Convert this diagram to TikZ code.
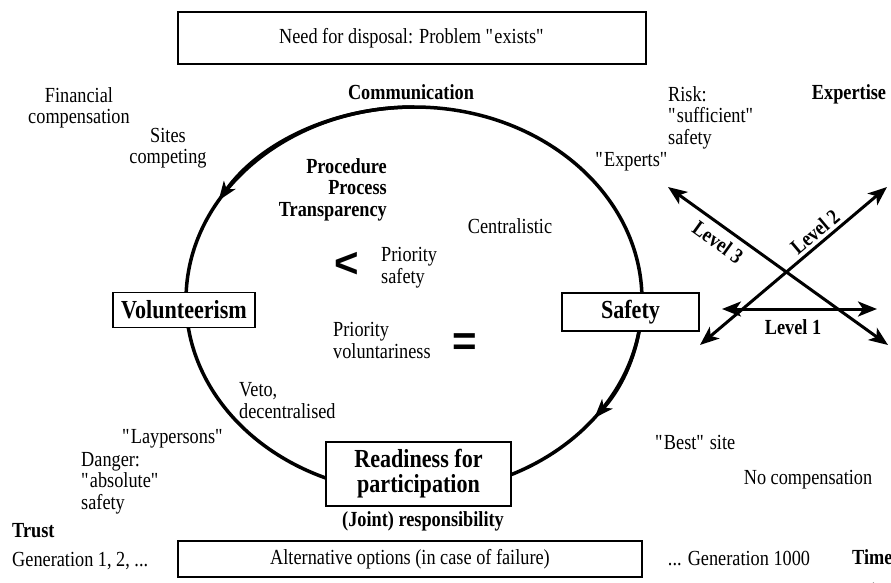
\documentclass[tikz,border=0pt]{standalone}
\usepackage{fontspec}
\setmainfont{Liberation Serif}[FakeStretch=0.85]
\newfontfamily\relfont{Liberation Sans}
\usetikzlibrary{arrows.meta}
% straight double quote, kept out of the TeX ligature mapping
\newcommand\dq{\textquotedbl}

\begin{document}
\begin{tikzpicture}[x=1pt,y=1pt,
  txt/.style={inner sep=0pt, font=\fontsize{21.5}{21.5}\selectfont},
  btxt/.style={inner sep=0pt, font=\fontsize{21.5}{21.5}\selectfont\bfseries},
  rel/.style={inner sep=0pt, font=\fontsize{42}{42}\relfont\bfseries},
  plainbox/.style={draw, line width=1.2pt, fill=white, inner sep=0pt,
    font=\fontsize{21.5}{21.5}\selectfont},
  keybox/.style={draw, line width=1.2pt, fill=white, inner sep=0pt,
    font=\fontsize{26}{25}\selectfont\bfseries, align=center},
  ring/.style={line width=3.5pt},
  ringtip/.style={ring, -{Stealth[length=19pt,width=14pt,inset=5pt]}},
  level/.style={line width=3pt,
    {Stealth[length=19pt,width=15pt,inset=5pt]}-{Stealth[length=19pt,width=15pt,inset=5pt]}},
]
\useasboundingbox (0,0) rectangle (891,-583);
\fill[white] (0,0) rectangle (891,-583);

% the cycle and its direction marks
\draw[ring] (414,-300) ellipse [x radius=228, y radius=193];
\draw[ringtip] (414,-107) arc[start angle=90, end angle=149, x radius=228, y radius=193];
\draw[ringtip] (642,-300) arc[start angle=0, end angle=-37.7, x radius=228, y radius=193];

% boxes
\node[plainbox, minimum width=468pt, minimum height=52pt] (need) at (412,-38)
  {Need for disposal: Problem \dq exists\dq};
\node[keybox, minimum width=142pt, minimum height=35pt] (vol) at (184,-310) {Volunteerism};
\node[keybox, minimum width=137pt, minimum height=38pt] (saf) at (630.5,-312) {Safety};
\node[keybox, minimum width=185pt, minimum height=64pt] (ready) at (418.5,-474)
  {Readiness for\\participation};
\node[plainbox, minimum width=464pt, minimum height=36pt] (alt) at (410,-559)
  {Alternative options (in case of failure)};

% labels around the cycle (multi-line nodes sit on the baseline of their last line)
\node[btxt, anchor=base] (comm) at (411,-100) {Communication};
\node[btxt, anchor=base] (expertise) at (849,-100) {Expertise};
\node[txt, anchor=base, align=center] (fin) at (79,-124) {Financial\\compensation};
\node[txt, anchor=base, align=center] (sites) at (168,-164) {Sites\\competing};
\node[txt, anchor=base west, align=left] (risk) at (668,-144) {Risk:\\\dq sufficient\dq\\safety};
\node[txt, anchor=base] (experts) at (632,-166) {\dq Experts\dq};
\node[btxt, anchor=base east, align=right] (proc) at (387,-216) {Procedure\\Process\\Transparency};
\node[txt, anchor=base] (central) at (510,-233) {Centralistic};
\node[rel] (less) at (347,-265) {<};
\node[txt, anchor=base west, align=left] (psafe) at (381,-283) {Priority\\safety};
\node[txt, anchor=base west, align=left] (pvol) at (333,-358) {Priority\\voluntariness};
\node[rel] (equal) at (465,-345) {=};
\node[txt, anchor=base west, align=left] (veto) at (239,-418) {Veto,\\decentralised};
\node[txt, anchor=base] (lay) at (173,-443) {\dq Laypersons\dq};
\node[txt, anchor=base west, align=left] (danger) at (81,-509) {Danger:\\\dq absolute\dq\\safety};
\node[btxt, anchor=base west] (trust) at (12,-537) {Trust};
\node[txt, anchor=base west] (gen1) at (12,-566) {Generation 1, 2, ...};
\node[btxt, anchor=base] (joint) at (423,-526) {(Joint) responsibility};
\node[txt, anchor=base] (genk) at (739,-565) {... Generation 1000};
\node[btxt, anchor=base west] (time) at (852,-564) {Time};
\node[txt, anchor=base west] (best) at (655,-449) {\dq Best\dq\ site};
\node[txt, anchor=base] (nocomp) at (808,-484) {No compensation};

% the three levels
\coordinate (l1a) at (722,-309);
\coordinate (l1b) at (877,-309);
\coordinate (l2a) at (700,-345);
\coordinate (l2b) at (887,-187);
\coordinate (l3a) at (668,-187);
\coordinate (l3b) at (888,-345);
\draw[level] (l1a) -- (l1b);
\draw[level] (l2a) -- (l2b);
\draw[level] (l3a) -- (l3b);
\node[btxt] (lev1) at (793,-327) {Level 1};
\node[btxt, rotate=40.2] (lev2) at (815,-232) {Level 2};
\node[btxt, rotate=-35.7] (lev3) at (718,-242) {Level 3};

% time axis, running off the lower edge
\coordinate (ta) at (856,-588);
\coordinate (tb) at (884,-588);
\draw[line width=1.2pt, -{Stealth[length=11pt,width=11pt]}] (ta) -- (tb);
\end{tikzpicture}
\end{document}
